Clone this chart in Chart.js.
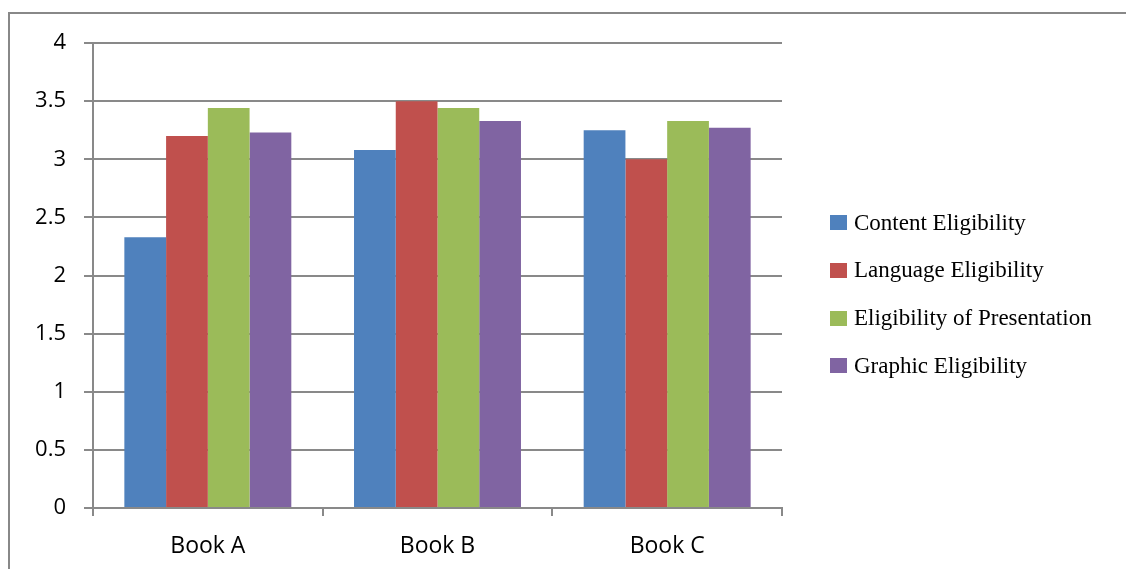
<!DOCTYPE html>
<html>
<head>
<meta charset="utf-8">
<script src="https://cdn.jsdelivr.net/npm/chart.js@4/dist/chart.umd.min.js"></script>
<style>
  html, body { margin: 0; padding: 0; background: #fff; overflow: hidden; }
  #wrap { position: relative; width: 1126px; height: 569px; }
  #frame {
    position: absolute; left: 8px; top: 12px; width: 1200px; height: 700px;
    border-top: 2px solid #888; border-left: 2px solid #888;
  }
  canvas { position: absolute; left: 0; top: 0; }
</style>
</head>
<body>
<div id="wrap">
  <div id="frame"></div>
  <canvas id="c" width="1126" height="569"></canvas>
</div>
<script>
// Books being compared
const books = ['Book A', 'Book B', 'Book C'];

// Mean eligibility scores per aspect
const contentEligibility      = [2.33, 3.08, 3.25];
const languageEligibility     = [3.20, 3.50, 3.00];
const presentationEligibility = [3.44, 3.44, 3.33];
const graphicEligibility      = [3.23, 3.33, 3.27];

const seriesNames = ['Content Eligibility', 'Language Eligibility',
                     'Eligibility of Presentation', 'Graphic Eligibility'];
const seriesColors = ['#4F81BD', '#C0504D', '#9BBB59', '#8064A2'];

// Y axis tick labels, bottom to top
const yTickLabels = ['0', '0.5', '1', '1.5', '2', '2.5', '3', '3.5', '4'];

const gridColor = '#898989';
const yTickFont = { family: '"Open Sans", sans-serif', size: 22 };
const xTickFont = { family: '"Open Sans", sans-serif', size: 23 };

// Legend drawn at the right of the plot, one row per dataset
const sideLegend = {
  id: 'sideLegend',
  afterDraw(chart) {
    const ctx = chart.ctx;
    ctx.save();
    ctx.font = '23px "Liberation Serif", "Times New Roman", serif';
    ctx.textBaseline = 'middle';
    chart.data.datasets.forEach((ds, i) => {
      const cy = 222.5 + i * 47.8;
      ctx.fillStyle = ds.backgroundColor;
      ctx.fillRect(830, Math.round(cy - 7.5), 17, 15);
      ctx.fillStyle = '#000';
      ctx.fillText(ds.label, 854, cy + 1);
    });
    ctx.restore();
  }
};

const seriesData = [contentEligibility, languageEligibility,
                    presentationEligibility, graphicEligibility];

new Chart(document.getElementById('c'), {
  type: 'bar',
  data: {
    labels: books,
    datasets: seriesData.map((vals, i) => ({
      label: seriesNames[i],
      data: vals,
      backgroundColor: seriesColors[i],
      borderWidth: 0,
      categoryPercentage: 0.727,
      barPercentage: 1.0
    }))
  },
  options: {
    responsive: false,
    devicePixelRatio: 1,
    animation: false,
    layout: { padding: { top: 43, right: 344, left: 0, bottom: 0 } },
    plugins: { legend: { display: false }, tooltip: { enabled: false } },
    scales: {
      x: {
        type: 'category',
        afterFit(scale) { scale.height = 61; },
        grid: {
          offset: true, drawOnChartArea: false, drawTicks: true,
          tickLength: 8, color: gridColor, lineWidth: 2
        },
        border: { display: true, color: gridColor, width: 2 },
        ticks: { font: xTickFont, color: '#000', padding: 17 }
      },
      y: {
        min: 0, max: 4,
        afterFit(scale) { scale.width = 93; },
        grid: {
          drawTicks: true, tickLength: 9, color: gridColor, lineWidth: 2
        },
        border: { display: true, color: gridColor, width: 2 },
        ticks: {
          stepSize: 0.5,
          font: yTickFont, color: '#000', padding: 18,
          callback: (value, index) => yTickLabels[index]
        }
      }
    }
  },
  plugins: [sideLegend]
});
</script>
</body>
</html>
